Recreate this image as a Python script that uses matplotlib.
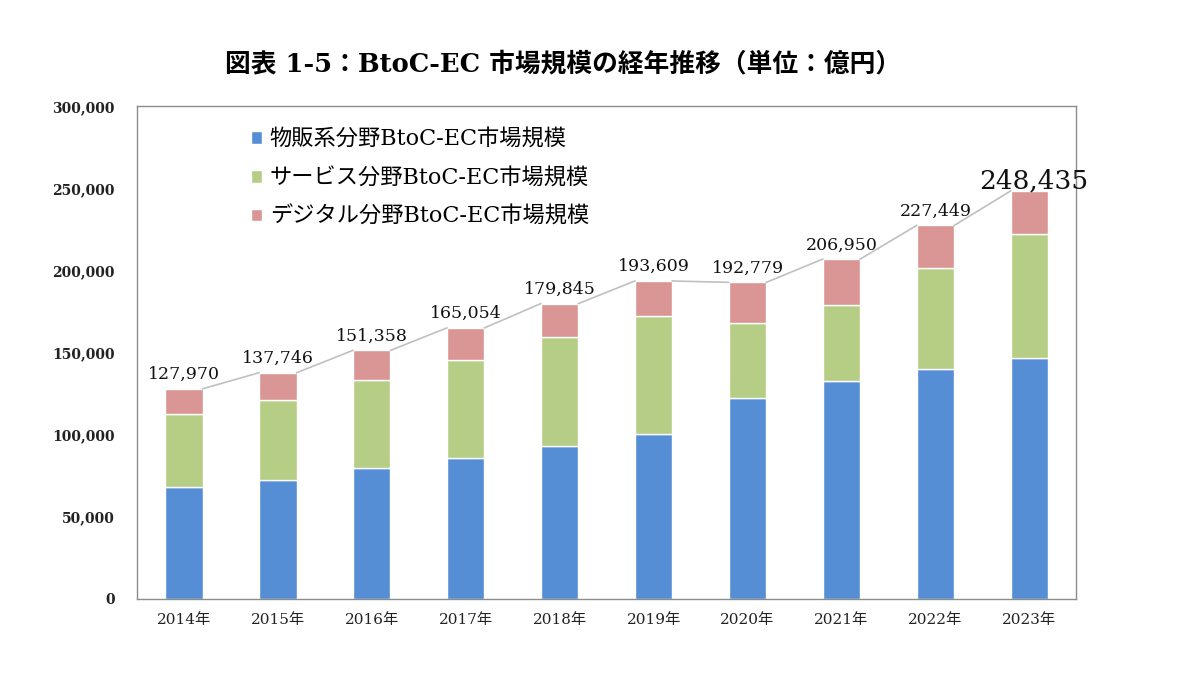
import matplotlib
matplotlib.use("Agg")
import matplotlib.pyplot as plt
from matplotlib.ticker import FuncFormatter

years = ["2014年", "2015年", "2016年", "2017年", "2018年", "2019年", "2020年", "2021年", "2022年", "2023年"]
goods = [68043, 72398, 80043, 86008, 92992, 100515, 122333, 132865, 139997, 146760]
services = [44816, 49014, 53532, 59568, 66471, 71672, 45832, 46424, 61477, 75169]
digital = [15111, 16334, 17783, 19478, 20382, 21422, 24614, 27661, 25974, 26506]
totals = [127970, 137746, 151358, 165054, 179845, 193609, 192779, 206950, 227449, 248435]
series_names = ["物販系分野BtoC-EC市場規模", "サービス分野BtoC-EC市場規模", "デジタル分野BtoC-EC市場規模"]
title = "図表 1-5：BtoC-EC 市場規模の経年推移（単位：億円）"

FAM = ["DejaVu Serif", "Noto Sans CJK JP", "DejaVu Sans"]
plt.rcParams['font.family'] = FAM

colors = ["#558ed5", "#b5cd85", "#d99694"]

fig = plt.figure(figsize=(12, 6.75), dpi=100)
ax = fig.add_axes([0.114, 0.1126, 0.783, 0.730])

x = list(range(len(years)))
w = 0.4
ax.bar(x, goods, w, color=colors[0], edgecolor="white", linewidth=1.0, label=series_names[0])
bottom2 = goods
ax.bar(x, services, w, bottom=bottom2, color=colors[1], edgecolor="white", linewidth=1.0, label=series_names[1])
bottom3 = [g + s for g, s in zip(goods, services)]
ax.bar(x, digital, w, bottom=bottom3, color=colors[2], edgecolor="white", linewidth=1.0, label=series_names[2])

# series lines connecting bar tops
for i in range(len(x) - 1):
    ax.plot([x[i] + w / 2, x[i + 1] - w / 2], [totals[i], totals[i + 1]],
            color="#c0c0c0", linewidth=1.2, zorder=1)

for i, t in enumerate(totals):
    big = (i == len(totals) - 1)
    ax.text(x[i] + (0.05 if big else 0), t + (-1500 if big else 3500), f"{t:,}",
            ha="center", va="bottom", fontsize=19 if big else 12.5,
            family=FAM, color="#111111")

ax.set_xlim(-0.5, len(years) - 0.5)
ax.set_ylim(0, 300000)
ax.set_yticks(range(0, 300001, 50000))
ax.yaxis.set_major_formatter(FuncFormatter(lambda v, p: f"{int(v):,}"))
ax.set_xticks(x)
ax.set_xticklabels(years)
ax.tick_params(axis="both", length=0, labelsize=11, colors="#222222")
ax.tick_params(axis="y", pad=16, labelsize=10)
ax.tick_params(axis="x", pad=10)
for lab in ax.get_yticklabels():
    lab.set_fontweight("bold")
for sp in ax.spines.values():
    sp.set_color("#8c8c8c")
    sp.set_linewidth(1.0)

ax.legend(loc="upper left", bbox_to_anchor=(0.1, 0.995), frameon=False,
          handlelength=0.5, handleheight=0.5, handletextpad=0.35,
          labelspacing=0.75, prop={"family": FAM, "size": 16})

fig.text(0.469, 0.905, title, ha="center", va="center", fontsize=18.5,
         fontweight="bold", family=FAM)

fig.savefig("out.png", dpi=100, facecolor="white")
